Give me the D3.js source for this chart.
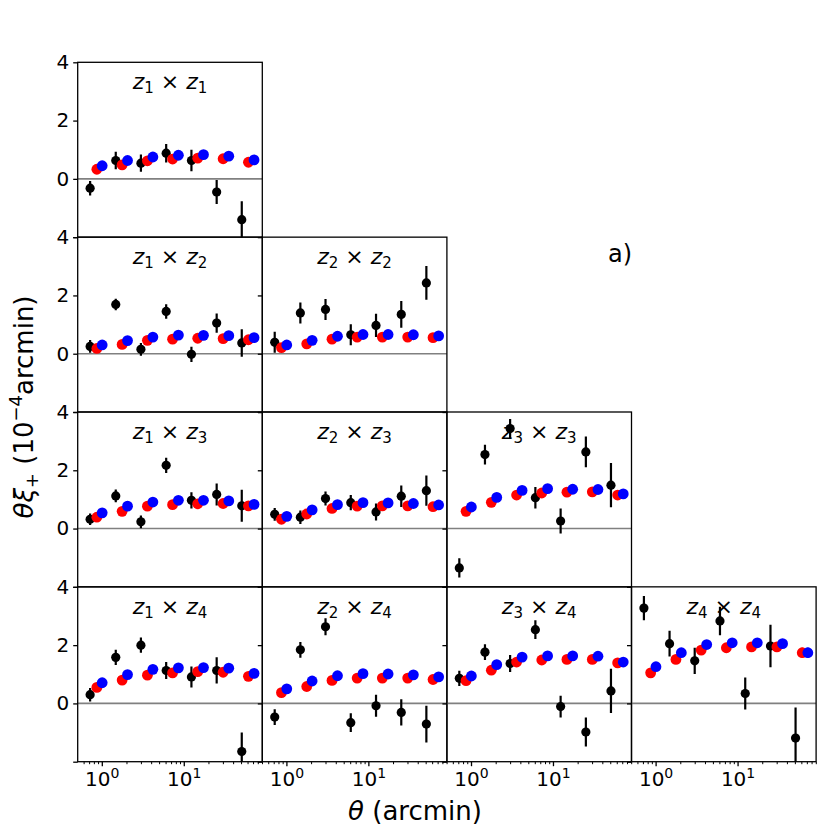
<!DOCTYPE html>
<html>
<head>
<meta charset="utf-8">
<script src="https://cdn.jsdelivr.net/npm/d3@7"></script>
<style>
  body { margin: 0; background: #fff; }
  svg { display: block; font-family: "DejaVu Sans", sans-serif; }
</style>
</head>
<body>
<div id="chart"></div>
<script>
// angular bins (arcmin): data points and the two model curves are slightly offset
const thetaObs  = [0.72, 1.48, 3.0, 6.1, 12.4, 25.2, 51];
const thetaRed  = [0.87, 1.77, 3.6, 7.3, 14.8, 30.2, 61.5];
const thetaBlue = [1.01, 2.06, 4.2, 8.6, 17.4, 35.4, 72];

const yTicks = [-2, 0, 2, 4];
const yTickLabels = ["", "0", "2", "4"];
const xTickExp = [0, 1];

// z1 x z1
const obs11  = [-0.32, 0.63, 0.54, 0.88, 0.63, -0.45, -1.40];
const err11  = [0.25, 0.30, 0.30, 0.32, 0.37, 0.41, 0.63];
const red11  = [0.33, 0.48, 0.62, 0.68, 0.71, 0.69, 0.57];
const blue11 = [0.45, 0.63, 0.75, 0.81, 0.83, 0.78, 0.65];
// z1 x z2
const obs12  = [0.25, 1.69, 0.15, 1.45, -0.02, 1.05, 0.37];
const err12  = [0.22, 0.20, 0.22, 0.25, 0.26, 0.33, 0.47];
const red12  = [0.18, 0.32, 0.46, 0.50, 0.53, 0.52, 0.48];
const blue12 = [0.30, 0.45, 0.57, 0.64, 0.63, 0.62, 0.55];
// z2 x z2
const obs22  = [0.39, 1.40, 1.52, 0.65, 0.97, 1.35, 2.43];
const err22  = [0.36, 0.36, 0.36, 0.36, 0.40, 0.46, 0.58];
const red22  = [0.21, 0.34, 0.50, 0.57, 0.57, 0.57, 0.55];
const blue22 = [0.30, 0.46, 0.60, 0.66, 0.66, 0.65, 0.61];
// z1 x z3
const obs13  = [0.32, 1.12, 0.23, 2.17, 0.97, 1.17, 0.78];
const err13  = [0.20, 0.22, 0.22, 0.26, 0.28, 0.38, 0.55];
const red13  = [0.39, 0.59, 0.77, 0.82, 0.85, 0.86, 0.78];
const blue13 = [0.54, 0.77, 0.91, 0.97, 0.97, 0.95, 0.83];
// z2 x z3
const obs23  = [0.49, 0.39, 1.03, 0.89, 0.57, 1.11, 1.30];
const err23  = [0.22, 0.23, 0.24, 0.26, 0.29, 0.37, 0.52];
const red23  = [0.32, 0.50, 0.69, 0.77, 0.78, 0.78, 0.75];
const blue23 = [0.42, 0.64, 0.82, 0.89, 0.88, 0.86, 0.81];
// z3 x z3
const obs33  = [-1.35, 2.54, 3.43, 1.06, 0.26, 2.63, 1.49];
const err33  = [0.33, 0.34, 0.33, 0.37, 0.43, 0.53, 0.76];
const red33  = [0.59, 0.90, 1.15, 1.22, 1.25, 1.26, 1.15];
const blue33 = [0.74, 1.07, 1.31, 1.37, 1.35, 1.34, 1.19];
// z1 x z4
const obs14  = [0.30, 1.58, 2.00, 1.13, 0.91, 1.13, -1.65];
const err14  = [0.23, 0.26, 0.26, 0.29, 0.36, 0.45, 0.65];
const red14  = [0.55, 0.80, 0.97, 1.05, 1.09, 1.07, 0.93];
const blue14 = [0.71, 0.99, 1.17, 1.22, 1.23, 1.21, 1.03];
// z2 x z4
const obs24  = [-0.47, 1.84, 2.63, -0.66, -0.08, -0.31, -0.71];
const err24  = [0.27, 0.27, 0.29, 0.32, 0.38, 0.45, 0.63];
const red24  = [0.37, 0.58, 0.79, 0.87, 0.87, 0.87, 0.82];
const blue24 = [0.50, 0.77, 0.95, 1.02, 1.01, 0.98, 0.91];
// z3 x z4
const obs34  = [0.86, 1.76, 1.37, 2.53, -0.11, -0.98, 0.43];
const err34  = [0.26, 0.27, 0.29, 0.32, 0.37, 0.50, 0.76];
const red34  = [0.78, 1.14, 1.42, 1.49, 1.51, 1.51, 1.39];
const blue34 = [0.94, 1.33, 1.59, 1.63, 1.63, 1.62, 1.42];
const mod34  = [0.02, 0.03, 0.04, 0.05, 0.06, 0.07, 0.09];
// z4 x z4
const obs44  = [3.27, 2.05, 1.46, 2.83, 0.34, 1.97, -1.19];
const err44  = [0.42, 0.44, 0.45, 0.49, 0.55, 0.73, 1.05];
const red44  = [1.05, 1.51, 1.83, 1.91, 1.94, 1.94, 1.74];
const blue44 = [1.26, 1.74, 2.02, 2.08, 2.08, 2.05, 1.74];
const mod44  = [0.03, 0.05, 0.07, 0.09, 0.10, 0.12, 0.17];

const noErr = [0, 0, 0, 0, 0, 0, 0];

// row = second bin, col = first bin
const panels = [
  {row: 0, col: 0, a: 1, b: 1, obs: obs11, err: err11, red: red11, blue: blue11, mod: noErr},
  {row: 1, col: 0, a: 1, b: 2, obs: obs12, err: err12, red: red12, blue: blue12, mod: noErr},
  {row: 1, col: 1, a: 2, b: 2, obs: obs22, err: err22, red: red22, blue: blue22, mod: noErr},
  {row: 2, col: 0, a: 1, b: 3, obs: obs13, err: err13, red: red13, blue: blue13, mod: noErr},
  {row: 2, col: 1, a: 2, b: 3, obs: obs23, err: err23, red: red23, blue: blue23, mod: noErr},
  {row: 2, col: 2, a: 3, b: 3, obs: obs33, err: err33, red: red33, blue: blue33, mod: noErr},
  {row: 3, col: 0, a: 1, b: 4, obs: obs14, err: err14, red: red14, blue: blue14, mod: noErr},
  {row: 3, col: 1, a: 2, b: 4, obs: obs24, err: err24, red: red24, blue: blue24, mod: noErr},
  {row: 3, col: 2, a: 3, b: 4, obs: obs34, err: err34, red: red34, blue: blue34, mod: mod34},
  {row: 3, col: 3, a: 4, b: 4, obs: obs44, err: err44, red: red44, blue: blue44, mod: mod44}
];

const W = 831, H = 831;
const gridLeft = 77.7, gridTop = 62.3;
const colW = 184.6, rowH = 174.85;

const svg = d3.select("#chart").append("svg")
  .attr("width", W).attr("height", H);
svg.append("rect").attr("width", W).attr("height", H).attr("fill", "#fff");

const x = d3.scaleLog().domain([0.508, 90.8]).range([0, colW]);
const y = d3.scaleLinear().domain([-2, 4]).range([rowH, 0]);

const majorX = xTickExp.map(e => Math.pow(10, e));
const minorX = x.ticks().filter(t => Math.abs(Math.log10(t) - Math.round(Math.log10(t))) > 1e-6);

panels.forEach((p, k) => {
  const g = svg.append("g")
    .attr("transform", "translate(" + (gridLeft + p.col * colW) + "," + (gridTop + p.row * rowH) + ")");

  g.append("clipPath").attr("id", "clip" + k)
    .append("rect").attr("width", colW).attr("height", rowH);

  // y ticks on every panel, labels only on the first column
  const yAxis = d3.axisLeft(y).tickValues(yTicks).tickSize(4.5).tickPadding(4)
    .tickFormat((d, i) => p.col === 0 ? yTickLabels[i] : "");
  g.append("g").call(yAxis)
    .call(a => a.select(".domain").remove())
    .call(a => a.selectAll("line").attr("stroke", "#000").attr("stroke-width", 1.3))
    .call(a => a.selectAll("text").attr("font-size", 20).attr("fill", "#000")
      .attr("font-family", "DejaVu Sans"));

  if (p.row === 3) {
    g.append("g").attr("transform", "translate(0," + rowH + ")")
      .call(d3.axisBottom(x).tickValues(minorX).tickSize(2.5).tickFormat(""))
      .call(a => a.select(".domain").remove())
      .call(a => a.selectAll("line").attr("stroke", "#000").attr("stroke-width", 1));

    const xMajor = g.append("g").attr("transform", "translate(0," + rowH + ")")
      .call(d3.axisBottom(x).tickValues(majorX).tickSize(4.5).tickFormat(""))
      .call(a => a.select(".domain").remove())
      .call(a => a.selectAll("line").attr("stroke", "#000").attr("stroke-width", 1.3));
    xMajor.selectAll(".tick").append("text")
      .attr("y", 24.5).attr("text-anchor", "middle").attr("fill", "#000")
      .attr("font-size", 20).attr("font-family", "DejaVu Sans")
      .each(function (d, i) {
        const t = d3.select(this);
        t.append("tspan").text("10");
        t.append("tspan").attr("font-size", 14).attr("dy", -8).text(xTickExp[i]);
      });
  }

  const body = g.append("g").attr("clip-path", "url(#clip" + k + ")");

  // zero line
  body.append("line")
    .attr("x1", 0).attr("x2", colW)
    .attr("y1", y(0)).attr("y2", y(0))
    .attr("stroke", "#808080").attr("stroke-width", 1.6);

  // panel title
  const title = g.append("text")
    .attr("x", colW / 2).attr("y", 27)
    .attr("text-anchor", "middle").attr("font-size", 22).attr("fill", "#000");
  title.append("tspan").attr("font-style", "italic").text("z");
  title.append("tspan").attr("font-size", 15).attr("dy", 4).text(p.a);
  title.append("tspan").attr("dy", -4).text(" \u00d7 ");
  title.append("tspan").attr("font-style", "italic").text("z");
  title.append("tspan").attr("font-size", 15).attr("dy", 4).text(p.b);

  // measurements with error bars
  body.selectAll(null).data(p.obs).enter().append("line")
    .attr("x1", (d, i) => x(thetaObs[i])).attr("x2", (d, i) => x(thetaObs[i]))
    .attr("y1", (d, i) => y(d - p.err[i])).attr("y2", (d, i) => y(d + p.err[i]))
    .attr("stroke", "#000").attr("stroke-width", 2.2);
  body.selectAll(null).data(p.obs).enter().append("circle")
    .attr("cx", (d, i) => x(thetaObs[i])).attr("cy", d => y(d))
    .attr("r", 4.6).attr("fill", "#000");

  // model predictions
  [[p.red, thetaRed, "#ff0000"], [p.blue, thetaBlue, "#0000ff"]].forEach(([vals, th, col]) => {
    body.selectAll(null).data(vals).enter().append("line")
      .attr("x1", (d, i) => x(th[i])).attr("x2", (d, i) => x(th[i]))
      .attr("y1", (d, i) => y(d - p.mod[i])).attr("y2", (d, i) => y(d + p.mod[i]))
      .attr("stroke", col).attr("stroke-width", 2.2);
    body.selectAll(null).data(vals).enter().append("circle")
      .attr("cx", (d, i) => x(th[i])).attr("cy", d => y(d))
      .attr("r", 5.4).attr("fill", col);
  });

  // frame
  g.append("rect").attr("width", colW).attr("height", rowH)
    .attr("fill", "none").attr("stroke", "#000").attr("stroke-width", 1.3);
});

// axis labels
const xl = svg.append("text").attr("x", 415).attr("y", 820)
  .attr("text-anchor", "middle").attr("font-size", 26).attr("fill", "#000");
xl.append("tspan").attr("font-style", "italic").text("\u03b8");
xl.append("tspan").text(" (arcmin)");

const yl = svg.append("text")
  .attr("transform", "translate(33,407) rotate(-90)")
  .attr("text-anchor", "middle").attr("font-size", 26).attr("fill", "#000");
yl.append("tspan").attr("font-style", "italic").text("\u03b8\u03be");
yl.append("tspan").attr("font-size", 18).attr("dy", 5).text("+");
yl.append("tspan").attr("dy", -5).text(" (10");
yl.append("tspan").attr("font-size", 18).attr("dy", -11).text("\u22124");
yl.append("tspan").attr("dy", 11).text("arcmin)");

svg.append("text").attr("x", 608).attr("y", 262)
  .attr("font-size", 24).attr("fill", "#000").text("a)");
</script>
</body>
</html>
